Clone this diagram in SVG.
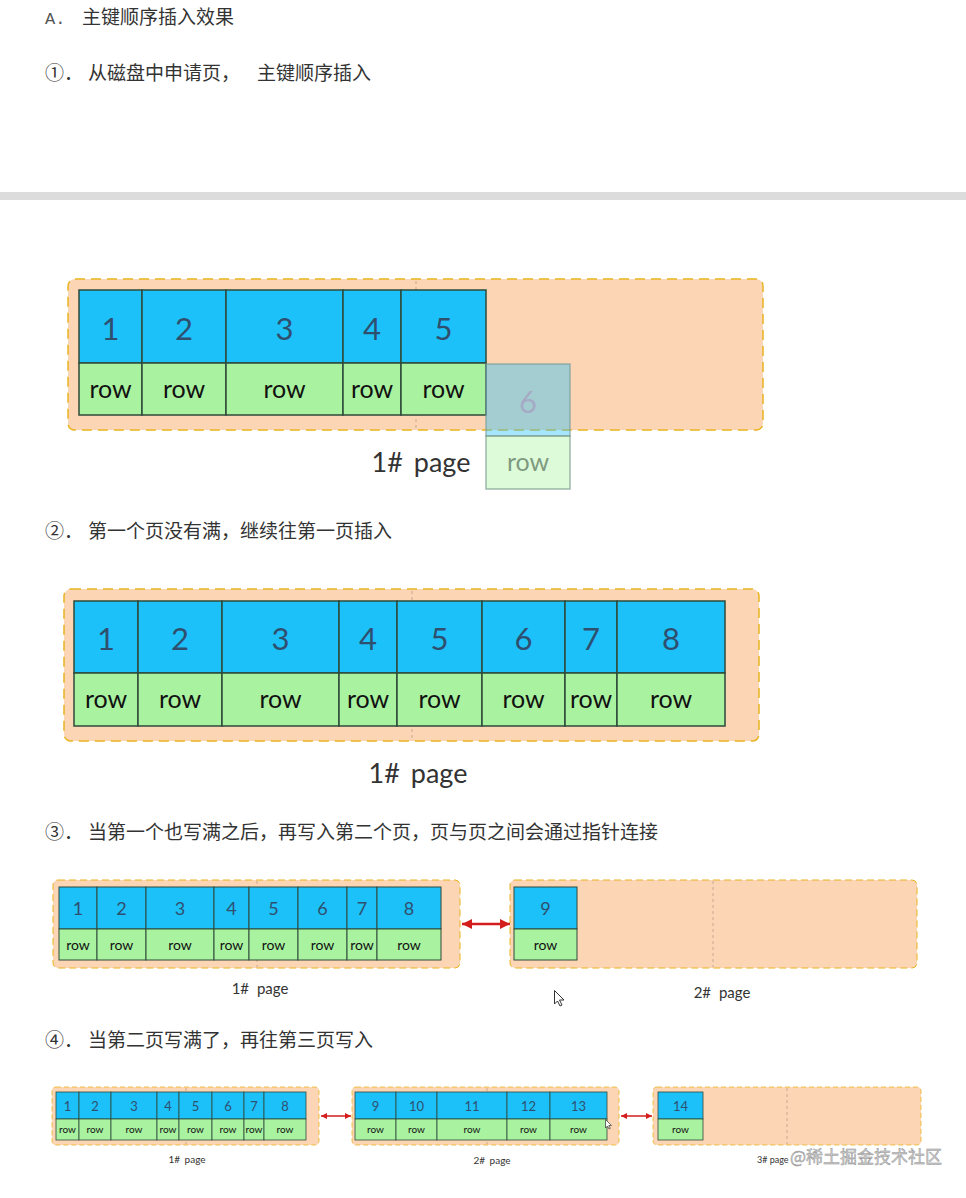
<svg xmlns="http://www.w3.org/2000/svg" width="966" height="1198" viewBox="0 0 966 1198">
<defs>
<marker id="ah" viewBox="0 0 4 4" markerWidth="4" markerHeight="4" refX="4" refY="2" orient="auto-start-reverse">
<path d="M0,0 L4,2 L0,4 z" fill="#d41e1e"/>
</marker>
<style>
.h{font-family:"Noto Sans CJK SC","Noto Sans",sans-serif;font-size:19px;fill:#333}
.pg{fill:#fcd5b5;stroke:#e8b41f}
.p1{stroke-width:3;stroke-dasharray:10 6}
.p3{stroke-width:2;stroke-dasharray:7 4}
.p4{stroke-width:1.5;stroke-dasharray:5 3}
.vl{stroke:#c9a890;stroke-width:1;stroke-dasharray:3 3}
.b{fill:#1dc1fa;stroke:#2e4a3a}
.g{fill:#a9f2a0;stroke:#2e4a3a}
.n{font-family:Lato,"Liberation Sans",sans-serif;fill:#2f4f6f;text-anchor:middle}
.r{font-family:Lato,"Liberation Sans",sans-serif;fill:#111;text-anchor:middle}
.lb{font-family:Lato,"Liberation Sans",sans-serif;fill:#333;text-anchor:middle;word-spacing:4px}
.s1 rect{stroke-width:1.5}.s1 .n{font-size:31px}.s1 .r{font-size:25px}
.s3 rect{stroke-width:1}.s3 .n{font-size:18px}.s3 .r{font-size:14px}
.s4 rect{stroke-width:0.8}.s4 .n{font-size:13px}.s4 .r{font-size:10px}
.ar{stroke:#d41e1e;fill:none;marker-start:url(#ah);marker-end:url(#ah)}
</style>
</defs>
<rect width="966" height="1198" fill="#fff"/>

<g id="headings">
<text x="45" y="24" style="font-family:'Liberation Mono','Noto Sans CJK SC',monospace;font-size:17px;fill:#555">A.</text>
<text x="82" y="24" class="h">主键顺序插入效果</text>
<text y="80" class="h"><tspan x="45">①．</tspan><tspan x="88">从磁盘中申请页，</tspan><tspan x="257">主键顺序插入</tspan></text>
<text y="538" class="h"><tspan x="45">②．</tspan><tspan x="88">第一个页没有满，继续往第一页插入</tspan></text>
<text y="839" class="h"><tspan x="45">③．</tspan><tspan x="88">当第一个也写满之后，再写入第二个页，页与页之间会通过指针连接</tspan></text>
<text y="1047" class="h"><tspan x="45">④．</tspan><tspan x="88">当第二页写满了，再往第三页写入</tspan></text>
</g>

<rect id="divider" x="0" y="192" width="966" height="8" fill="#dcdcdc"/>

<!-- Section 1 -->
<g id="s1-page1" class="s1">
<rect class="pg p1" x="68" y="279" width="695" height="151" rx="7"/>
<line class="vl" x1="416" y1="281" x2="416" y2="428"/>
<rect class="b" x="79" y="290" width="63" height="73"/><rect class="g" x="79" y="363" width="63" height="52"/>
<rect class="b" x="142" y="290" width="84" height="73"/><rect class="g" x="142" y="363" width="84" height="52"/>
<rect class="b" x="226" y="290" width="117" height="73"/><rect class="g" x="226" y="363" width="117" height="52"/>
<rect class="b" x="343" y="290" width="58" height="73"/><rect class="g" x="343" y="363" width="58" height="52"/>
<rect class="b" x="401" y="290" width="85" height="73"/><rect class="g" x="401" y="363" width="85" height="52"/>
<text class="n" x="110.5" y="340">1</text><text class="n" x="184" y="340">2</text><text class="n" x="284.5" y="340">3</text><text class="n" x="372" y="340">4</text><text class="n" x="443.5" y="340">5</text>
<text class="r" x="110.5" y="398">row</text><text class="r" x="184" y="398">row</text><text class="r" x="284.5" y="398">row</text><text class="r" x="372" y="398">row</text><text class="r" x="443.5" y="398">row</text>
<text class="lb" x="421" y="472" style="font-size:27px">1# page</text>
</g>
<g id="s1-ghost6" class="s1">
<rect x="486" y="364" width="84" height="72" fill="#1dc1fa" fill-opacity="0.4" stroke="#7a9a9a" stroke-opacity="0.7"/>
<rect x="486" y="436" width="84" height="53" fill="#a9f2a0" fill-opacity="0.4" stroke="#7a9a8a" stroke-opacity="0.7"/>
<text class="n" x="528" y="413" style="fill:#a89cc0;fill-opacity:0.7">6</text>
<text class="r" x="528" y="471" style="fill:#7f9a80">row</text>
</g>

<!-- Section 2 -->
<g id="s2-page1" class="s1">
<rect class="pg p1" x="64" y="589" width="695" height="152" rx="7"/>
<line class="vl" x1="412" y1="591" x2="412" y2="739"/>
<rect class="b" x="74" y="601" width="64" height="72"/><rect class="g" x="74" y="673" width="64" height="53"/>
<rect class="b" x="138" y="601" width="84" height="72"/><rect class="g" x="138" y="673" width="84" height="53"/>
<rect class="b" x="222" y="601" width="117" height="72"/><rect class="g" x="222" y="673" width="117" height="53"/>
<rect class="b" x="339" y="601" width="58" height="72"/><rect class="g" x="339" y="673" width="58" height="53"/>
<rect class="b" x="397" y="601" width="85" height="72"/><rect class="g" x="397" y="673" width="85" height="53"/>
<rect class="b" x="482" y="601" width="83" height="72"/><rect class="g" x="482" y="673" width="83" height="53"/>
<rect class="b" x="565" y="601" width="52" height="72"/><rect class="g" x="565" y="673" width="52" height="53"/>
<rect class="b" x="617" y="601" width="108" height="72"/><rect class="g" x="617" y="673" width="108" height="53"/>
<text class="n" x="106" y="650">1</text><text class="n" x="180" y="650">2</text><text class="n" x="280.5" y="650">3</text><text class="n" x="368" y="650">4</text><text class="n" x="439.5" y="650">5</text><text class="n" x="523.5" y="650">6</text><text class="n" x="591" y="650">7</text><text class="n" x="671" y="650">8</text>
<text class="r" x="106" y="708">row</text><text class="r" x="180" y="708">row</text><text class="r" x="280.5" y="708">row</text><text class="r" x="368" y="708">row</text><text class="r" x="439.5" y="708">row</text><text class="r" x="523.5" y="708">row</text><text class="r" x="591" y="708">row</text><text class="r" x="671" y="708">row</text>
<text class="lb" x="418" y="783" style="font-size:27px">1# page</text>
</g>

<!-- Section 3 -->
<g id="s3-page1" class="s3">
<rect class="pg p3" x="53" y="880" width="407" height="88" rx="5"/>
<line class="vl" x1="257" y1="881" x2="257" y2="967"/>
<rect class="b" x="59" y="887" width="38" height="42"/><rect class="g" x="59" y="929" width="38" height="31"/>
<rect class="b" x="97" y="887" width="49" height="42"/><rect class="g" x="97" y="929" width="49" height="31"/>
<rect class="b" x="146" y="887" width="68" height="42"/><rect class="g" x="146" y="929" width="68" height="31"/>
<rect class="b" x="214" y="887" width="35" height="42"/><rect class="g" x="214" y="929" width="35" height="31"/>
<rect class="b" x="249" y="887" width="49" height="42"/><rect class="g" x="249" y="929" width="49" height="31"/>
<rect class="b" x="298" y="887" width="49" height="42"/><rect class="g" x="298" y="929" width="49" height="31"/>
<rect class="b" x="347" y="887" width="30" height="42"/><rect class="g" x="347" y="929" width="30" height="31"/>
<rect class="b" x="377" y="887" width="64" height="42"/><rect class="g" x="377" y="929" width="64" height="31"/>
<text class="n" x="78" y="915">1</text><text class="n" x="121.5" y="915">2</text><text class="n" x="180" y="915">3</text><text class="n" x="231.5" y="915">4</text><text class="n" x="273.5" y="915">5</text><text class="n" x="322.5" y="915">6</text><text class="n" x="362" y="915">7</text><text class="n" x="409" y="915">8</text>
<text class="r" x="78" y="950">row</text><text class="r" x="121.5" y="950">row</text><text class="r" x="180" y="950">row</text><text class="r" x="231.5" y="950">row</text><text class="r" x="273.5" y="950">row</text><text class="r" x="322.5" y="950">row</text><text class="r" x="362" y="950">row</text><text class="r" x="409" y="950">row</text>
<text class="lb" x="260" y="994" style="font-size:15px">1# page</text>
</g>
<g id="s3-page2" class="s3">
<rect class="pg p3" x="510" y="880" width="407" height="88" rx="5"/>
<line class="vl" x1="713" y1="881" x2="713" y2="967"/>
<rect class="b" x="514" y="887" width="63" height="42"/><rect class="g" x="514" y="929" width="63" height="31"/>
<text class="n" x="545.5" y="915">9</text>
<text class="r" x="545.5" y="950">row</text>
<text class="lb" x="722" y="998" style="font-size:15px">2# page</text>
</g>

<!-- Section 4 -->
<g id="s4-page1" class="s4">
<rect class="pg p4" x="52" y="1087" width="267" height="58" rx="4"/>
<line class="vl" x1="186" y1="1088" x2="186" y2="1144"/>
<rect class="b" x="56" y="1092" width="23" height="27"/><rect class="g" x="56" y="1119" width="23" height="21"/>
<rect class="b" x="79" y="1092" width="32" height="27"/><rect class="g" x="79" y="1119" width="32" height="21"/>
<rect class="b" x="111" y="1092" width="46" height="27"/><rect class="g" x="111" y="1119" width="46" height="21"/>
<rect class="b" x="157" y="1092" width="22" height="27"/><rect class="g" x="157" y="1119" width="22" height="21"/>
<rect class="b" x="179" y="1092" width="33" height="27"/><rect class="g" x="179" y="1119" width="33" height="21"/>
<rect class="b" x="212" y="1092" width="32" height="27"/><rect class="g" x="212" y="1119" width="32" height="21"/>
<rect class="b" x="244" y="1092" width="20" height="27"/><rect class="g" x="244" y="1119" width="20" height="21"/>
<rect class="b" x="264" y="1092" width="42" height="27"/><rect class="g" x="264" y="1119" width="42" height="21"/>
<text class="n" x="67.5" y="1111">1</text><text class="n" x="95" y="1111">2</text><text class="n" x="134" y="1111">3</text><text class="n" x="168" y="1111">4</text><text class="n" x="195.5" y="1111">5</text><text class="n" x="228" y="1111">6</text><text class="n" x="254" y="1111">7</text><text class="n" x="285" y="1111">8</text>
<text class="r" x="67.5" y="1133">row</text><text class="r" x="95" y="1133">row</text><text class="r" x="134" y="1133">row</text><text class="r" x="168" y="1133">row</text><text class="r" x="195.5" y="1133">row</text><text class="r" x="228" y="1133">row</text><text class="r" x="254" y="1133">row</text><text class="r" x="285" y="1133">row</text>
<text class="lb" x="187" y="1163" style="font-size:10px;word-spacing:2px">1# page</text>
</g>
<g id="s4-page2" class="s4">
<rect class="pg p4" x="352" y="1087" width="267" height="58" rx="4"/>
<line class="vl" x1="487" y1="1088" x2="487" y2="1144"/>
<rect class="b" x="355" y="1092" width="41" height="27"/><rect class="g" x="355" y="1119" width="41" height="21"/>
<rect class="b" x="396" y="1092" width="41" height="27"/><rect class="g" x="396" y="1119" width="41" height="21"/>
<rect class="b" x="437" y="1092" width="70" height="27"/><rect class="g" x="437" y="1119" width="70" height="21"/>
<rect class="b" x="507" y="1092" width="43" height="27"/><rect class="g" x="507" y="1119" width="43" height="21"/>
<rect class="b" x="550" y="1092" width="57" height="27"/><rect class="g" x="550" y="1119" width="57" height="21"/>
<text class="n" x="375.5" y="1111">9</text><text class="n" x="416.5" y="1111">10</text><text class="n" x="472" y="1111">11</text><text class="n" x="528.5" y="1111">12</text><text class="n" x="578.5" y="1111">13</text>
<text class="r" x="375.5" y="1133">row</text><text class="r" x="416.5" y="1133">row</text><text class="r" x="472" y="1133">row</text><text class="r" x="528.5" y="1133">row</text><text class="r" x="578.5" y="1133">row</text>
<text class="lb" x="492" y="1164" style="font-size:10px;word-spacing:2px">2# page</text>
</g>
<g id="s4-page3" class="s4">
<rect class="pg p4" x="653" y="1087" width="268" height="58" rx="4"/>
<line class="vl" x1="787" y1="1088" x2="787" y2="1144"/>
<rect class="b" x="658" y="1092" width="45" height="27"/><rect class="g" x="658" y="1119" width="45" height="21"/>
<text class="n" x="680.5" y="1111">14</text>
<text class="r" x="680.5" y="1133">row</text>
<text x="757" y="1163" style="font-family:Lato,'Liberation Sans',sans-serif;font-size:9px;fill:#333">3# page</text>
</g>

<g id="connectors">
<line class="ar" x1="462" y1="924" x2="510" y2="924" stroke-width="2.5"/>
<line class="ar" x1="321" y1="1116" x2="351" y2="1116" stroke-width="1.5"/>
<line class="ar" x1="621" y1="1116" x2="652" y2="1116" stroke-width="1.5"/>
</g>

<g id="cursors" fill="#fff" stroke="#333" stroke-width="1" stroke-linejoin="round">
<path d="M554.5,990.5 L554.5,1004 L557.5,1001 L560,1006 L562,1005 L559.5,1000 L564,1000 z"/>
<path d="M605.5,1119.5 L605.5,1128 L607.5,1126 L609,1129 L610.3,1128.4 L608.8,1125.5 L611.5,1125.5 z" stroke-width="0.7"/>
</g>

<text id="watermark" x="790" y="1163" style="font-family:'Noto Sans CJK SC',sans-serif;font-size:17px;fill:#c8c8c8;fill-opacity:0.9;stroke:#8a8a8a;stroke-width:0.4">@稀土掘金技术社区</text>
</svg>
